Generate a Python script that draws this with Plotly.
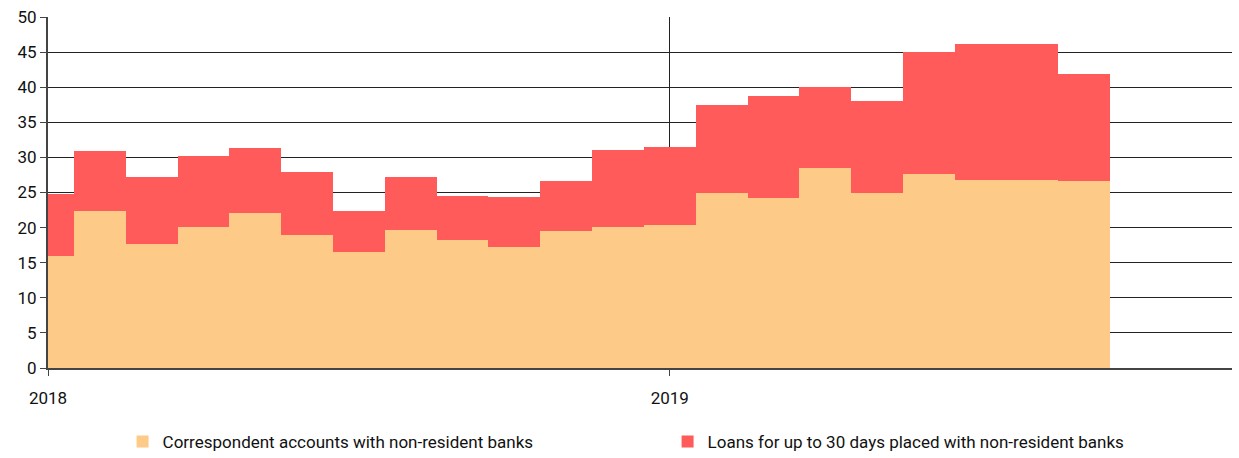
import plotly.graph_objects as go

# monthly, Jan 2018 .. Sep 2019 (index 0 = Jan 2018)
months = list(range(21))
correspondent = [15.9, 22.4, 17.6, 20.1, 22.1, 18.9, 16.5, 19.7, 18.2, 17.2, 19.5,
                 20.1, 20.4, 24.9, 24.2, 28.5, 24.9, 27.7, 26.8, 26.8, 26.7]
total = [24.8, 30.9, 27.2, 30.2, 31.4, 27.9, 22.3, 27.2, 24.5, 24.3, 26.7,
         31.0, 31.5, 37.5, 38.7, 40.1, 38.0, 45.0, 46.2, 46.2, 41.9]
loans = [round(t - c, 1) for t, c in zip(total, correspondent)]

year_ticks = [0, 12]
year_labels = ["2018", "2019"]

font = "Roboto, Arial, sans-serif"

fig = go.Figure()
fig.add_trace(go.Bar(x=months, y=correspondent, width=1,
                     name="Correspondent accounts with non-resident banks",
                     marker=dict(color="#FECA88", line=dict(width=0))))
fig.add_trace(go.Bar(x=months, y=loans, width=1,
                     name="Loans for up to 30 days placed with non-resident banks",
                     marker=dict(color="#FF5B5B", line=dict(width=0))))

fig.update_layout(
    barmode="stack",
    bargap=0,
    width=1239, height=458,
    margin=dict(l=48, r=7, t=17, b=90),
    plot_bgcolor="white",
    paper_bgcolor="white",
    font=dict(family=font, size=17, color="#111"),
    showlegend=True,
    legend=dict(orientation="h", traceorder="normal",
                x=0.063, xanchor="left", yref="container", y=0.035, yanchor="middle",
                entrywidth=500, font=dict(size=17), itemwidth=30),
    xaxis=dict(range=[0, 22.85], tickvals=year_ticks, ticktext=year_labels,
               showgrid=True, gridcolor="#222", gridwidth=1,
               showline=True, linecolor="#444", linewidth=2,
               ticks="outside", ticklen=6, tickcolor="#444",
               ticklabelstandoff=8, zeroline=False, automargin=False),
    yaxis=dict(range=[0, 50], dtick=5, showgrid=True, gridcolor="#222", gridwidth=1,
               showline=True, linecolor="#444", linewidth=2,
               ticks="outside", ticklen=6, tickcolor="#444", zeroline=False,
               automargin=False),
)

# drop the browser's default body margin so the figure sits at the page corner
fig.write_html("out.html", config={"displayModeBar": False},
               post_script="document.body.style.margin='0';")
